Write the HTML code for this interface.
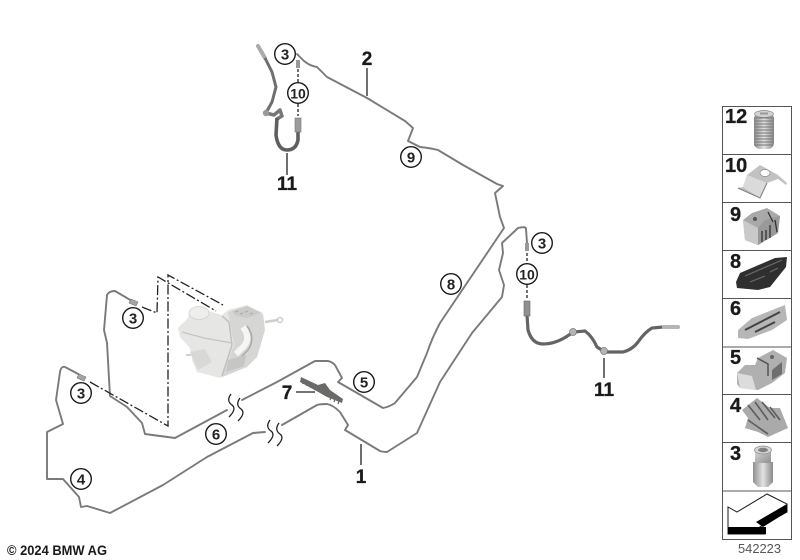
<!DOCTYPE html>
<html><head><meta charset="utf-8">
<style>
html,body{margin:0;padding:0;background:#fff;width:800px;height:560px;overflow:hidden}
svg{display:block;filter:blur(.35px)}
text{font-family:"Liberation Sans",sans-serif}
.t{fill:none;stroke:#7a7a78;stroke-width:1.9;stroke-linejoin:round;stroke-linecap:round}
.d{fill:none;stroke:#222;stroke-width:1.3;stroke-dasharray:10 2.5 2 2.5}
.l{stroke:#222;stroke-width:1.3;fill:none}
.c{fill:#fff;stroke:#1a1a1a;stroke-width:1.4}
.n{font-weight:bold;font-size:15px;text-anchor:middle;fill:#222}
.b{font-weight:bold;font-size:19px;text-anchor:middle;fill:#1a1a1a;stroke:#1a1a1a;stroke-width:.3}
.p{font-weight:bold;font-size:20px;fill:#1a1a1a;stroke:#1a1a1a;stroke-width:.3}
.r{fill:#fff;stroke:#555;stroke-width:1}
</style></head><body>
<svg width="800" height="560" viewBox="0 0 800 560" xmlns="http://www.w3.org/2000/svg">
<defs>
<linearGradient id="g1" x1="0" x2="1" y1="0" y2="0"><stop offset="0" stop-color="#8e8e8e"/><stop offset=".5" stop-color="#e2e2e2"/><stop offset="1" stop-color="#8a8a8a"/></linearGradient>
<linearGradient id="g2" x1="0" x2="1" y1="0" y2="1"><stop offset="0" stop-color="#d8d8d8"/><stop offset="1" stop-color="#8f8f8f"/></linearGradient>
</defs>

<!-- pipes -->
<path class="t" d="M297 54L304 61Q310 66 317 67Q322 72 327 77L367 98L405 121L413 128L408 141L420 147Q430 148 438 150L463 165L497 184L503 186L495 193L500 217L504 228L440 323Q432 338 427 353L417 377L395 403Q389 407 383 408L338 382L342 378L335 365Q331 361 327 361H315L277 382L242 400"/>
<path class="t" d="M227 410L175 438L145 434L142 423L127 407L110 396L107 343L104 330L107 295Q109 291 115 291L132 301"/>
<path class="t" d="M527 243L526 229Q526 226 518 228L502 243L503 253L499 270L504 285L502 297L472 333L440 382L417 433L387 452Q383 452 380 451L345 430L348 425L340 412Q333 405 327 404Q320 404 317 405L282 425"/>
<path class="t" d="M265 432L253 433L207 457L163 485L110 513L87 506L81 507L79 497L63 479L47 479L47 432L63 424L56 400L60 372Q61 366 65 367L80 375"/>
<!-- break marks -->
<path class="l" d="M231 394Q226 401 232 405Q237 409 229 417M240 398Q235 405 241 409Q246 413 238 421M270 420Q265 427 271 431Q276 435 268 443M279 423Q274 430 280 434Q285 438 277 446" stroke-width="1.1"/>
<!-- fittings -->
<path d="M131 299l7 3l-2 4l-7-3zM79 374l7 3l-2 4l-7-3z" fill="#a4a4a4" stroke="#777" stroke-width=".6"/>
<rect x="296" y="60" width="4" height="8" fill="#999"/>
<rect x="525" y="243" width="4" height="8" fill="#999"/>

<!-- dash-dot -->
<path class="d" d="M90 382L168 426L168 275L223 305"/>
<path class="d" d="M142 307L157 313L158 277L216 311"/>
<path class="l" d="M298 69V82M298 104V116M527 253V264M527 285V298" stroke-dasharray="3 2"/>

<!-- booster reservoir -->
<g>
<path d="M178 328L188 318L190 310L200 307L212 312L222 315L228 310L247 305L263 313L265 330L257 357L247 367L220 378L197 372L192 360L190 348L180 337Z" fill="#e6e6e4"/>
<path d="M228 312L247 307L263 315L265 330L257 357L247 367L222 377L234 345Z" fill="#d6d6d4"/>
<path d="M231 311L247 306L262 313L247 318L236 316Z" fill="#cbcbc9"/>
<path d="M235 312l3-1M240 314l3-1M245 312l3-1M250 314l3-1" stroke="#a8a8a6" stroke-width="1"/>
<path d="M243 327Q251 338 244 346L236 354" fill="none" stroke="#f6f6f6" stroke-width="6"/>
<path d="M247 326Q256 338 248 350L240 358" fill="none" stroke="#a8a8a6" stroke-width="1.5"/>
<path d="M222 316L229 322L232 345L222 376" fill="none" stroke="#bfbfbd" stroke-width="1.4"/>
<path d="M228 360L246 355L244 366L226 372Z" fill="#c6c6c4"/>
<ellipse cx="199" cy="313" rx="10" ry="6.5" fill="#eeeeec" stroke="#d0d0ce" stroke-width=".8"/>
<path d="M182 332L204 338L232 343" fill="none" stroke="#c4c4c2" stroke-width="1.2"/>
<path d="M190 352L205 349L212 362L198 370Z" fill="#d8d8d6"/>
<path d="M191 355H186" stroke="#cfcfcd" stroke-width="2"/>
<path d="M265 322L278 320" stroke="#cdcdcb" stroke-width="2.5"/>
<circle cx="280" cy="320" r="2.5" fill="#fff" stroke="#c4c4c2" stroke-width="1.2"/>
</g>

<!-- hose top -->
<path d="M258 46L265 58" stroke="#aaa" stroke-width="4" fill="none" stroke-linecap="round"/>
<path d="M265 58L272 72L276 87L272 102L267 111" stroke="#6f6f6d" stroke-width="3" fill="none"/>
<path d="M266 113L274 115L280 110L282 116L277 119" stroke="#777" stroke-width="3.5" fill="none" stroke-linecap="round" stroke-linejoin="round"/>
<circle cx="266" cy="113" r="3.2" fill="#999"/>
<path d="M277 118L276 135Q278 150 287 150Q296 150 298 140L298 131" stroke="#5f5f5d" stroke-width="3.6" fill="none"/>
<rect x="295" y="118" width="6" height="14" fill="#9c9c9c" stroke="#777" stroke-width=".6"/>

<!-- hose right -->
<path d="M527 315L528 330Q532 344 543 344Q558 344 573 332L585 331Q592 336 597 347L605 352L623 352Q632 350 638 342Q645 332 652 328L663 327" stroke="#646462" stroke-width="3.2" fill="none"/>
<rect x="524" y="301" width="6" height="15" fill="#8f8f8f" stroke="#666" stroke-width=".6"/>
<path d="M664 327H678" stroke="#b4b4b4" stroke-width="4" stroke-linecap="round"/>
<circle cx="573" cy="332" r="3.5" fill="#b4b4b4" stroke="#777" stroke-width=".7"/>
<circle cx="604" cy="351" r="3.5" fill="#b4b4b4" stroke="#777" stroke-width=".7"/>

<!-- part 7 -->
<path d="M301 377L318 385L325 383L330 390L343 399L342 403L327 397L320 393L300 382Z" fill="#6a6a68"/>
<path d="M302 381l1 3M306 383l1 3M310 385l1 3M314 387l1 3M331 397l-1 3M335 399l-1 3M339 401l-1 3" stroke="#6a6a68" stroke-width="1.2"/>

<!-- leaders -->
<path class="l" d="M367 68V96M287 153V175M361 444V465M296 392H315M604 358V378"/>

<!-- circles -->
<g>
<circle class="c" cx="285" cy="54" r="10.3"/><text class="n" x="285" y="59.5">3</text>
<circle class="c" cx="298" cy="93" r="10.3"/><text class="n" x="298" y="98.5" style="font-size:14px">10</text>
<circle class="c" cx="411" cy="157" r="10.3"/><text class="n" x="411" y="162.5">9</text>
<circle class="c" cx="542" cy="243" r="10.3"/><text class="n" x="542" y="248.5">3</text>
<circle class="c" cx="527" cy="274" r="10.3"/><text class="n" x="527" y="279.5" style="font-size:14px">10</text>
<circle class="c" cx="451" cy="284" r="10.3"/><text class="n" x="451" y="289.5">8</text>
<circle class="c" cx="364" cy="382" r="10.3"/><text class="n" x="364" y="387.5">5</text>
<circle class="c" cx="216" cy="434" r="10.3"/><text class="n" x="216" y="439.5">6</text>
<circle class="c" cx="81" cy="479" r="10.3"/><text class="n" x="81" y="484.5">4</text>
<circle class="c" cx="81" cy="393" r="10.3"/><text class="n" x="81" y="398.5">3</text>
<circle class="c" cx="133" cy="318" r="10.3"/><text class="n" x="133" y="323.5">3</text>
</g>
<text class="b" x="367" y="65">2</text>
<text class="b" x="287" y="190">11</text>
<text class="b" x="361" y="483">1</text>
<text class="b" x="287" y="399">7</text>
<text class="b" x="604" y="396">11</text>

<!-- panel -->
<rect class="r" x="722.5" y="106.5" width="69" height="433"/>
<path d="M722 154.5H792M722 202.5H792M722 250.5H792M722 298.5H792M722 347H792M722 394.5H792M722 442.5H792M722 491H792" stroke="#555" stroke-width="1"/>

<text class="p" x="725" y="123">12</text>
<text class="p" x="725" y="172">10</text>
<text class="p" x="730" y="221">9</text>
<text class="p" x="730" y="268">8</text>
<text class="p" x="730" y="315">6</text>
<text class="p" x="730" y="364">5</text>
<text class="p" x="730" y="412">4</text>
<text class="p" x="730" y="460">3</text>

<!-- 12 insert -->
<g>
<rect x="754" y="113" width="20" height="36" rx="6" fill="url(#g1)"/>
<path d="M754 118h20M754 121h20M754 124h20M754 127h20M754 130h20M754 133h20M754 136h20M754 139h20M754 142h20M754 145h19" stroke="#777" stroke-width=".9"/>
<ellipse cx="764" cy="114" rx="9.5" ry="3.5" fill="#d2d2d2" stroke="#888" stroke-width=".7"/>
<rect x="760" y="112.5" width="8" height="2" fill="#999"/>
</g>
<!-- 10 clip -->
<g>
<path d="M747 175L760 165L778 175L787 183L786 185L778 179L767 183L760 198L738 188L743 187Z" fill="#c2c2c2"/>
<path d="M747 175L767 183L760 198L743 187Z" fill="#dadada"/>
<ellipse cx="765" cy="173" rx="5" ry="3.5" fill="#fff" stroke="#888" stroke-width=".7"/>
<path d="M738 188L760 198L767 183" fill="none" stroke="#7c7c7c" stroke-width="1"/>
</g>
<!-- 9 clip -->
<g>
<path d="M743 220L752 213L767 208L780 216L778 233L758 245L745 240Z" fill="#a9a9a9"/>
<path d="M743 220L758 228L758 245L745 240Z" fill="#c9c9c9"/>
<path d="M758 228L765 220L780 216L778 233L758 245Z" fill="#999"/>
<path d="M762 231V242M766 230V240M770 225V238M775 220L777 232M768 212L773 222" stroke="#333" stroke-width="1.3" fill="none"/>
<circle cx="755" cy="219" r="2" fill="#555"/>
</g>
<!-- 8 clip -->
<g>
<path d="M736 282L740 273L775 258L787 257L786 267L770 287L758 290L737 288Z" fill="#2f2f2f"/>
<path d="M745 276L782 260M750 282L765 276M770 272L778 268" stroke="#6a6a6a" stroke-width="1.2"/>
</g>
<!-- 6 clip -->
<g>
<path d="M738 330L752 318L785 305L787 320L772 330L748 339L738 338Z" fill="#b6b6b6"/>
<path d="M745 330L780 312M755 332L775 322" stroke="#444" stroke-width="2"/>
</g>
<!-- 5 clip -->
<g>
<path d="M737 373L745 365L755 365L758 358L773 350L787 358L785 373L772 383L758 390L740 388L737 384Z" fill="#b0b0b0"/>
<path d="M737 373L752 376L756 390L740 388Z" fill="#dcdcdc"/>
<path d="M757 358L768 364L768 376" fill="none" stroke="#555" stroke-width="1.5"/>
<path d="M772 370L782 362V374L772 380Z" fill="#6e6e6e"/>
<circle cx="772" cy="357" r="2" fill="#666"/>
</g>
<!-- 4 clip -->
<g>
<path d="M742 410L757 398L770 408L780 408L788 428L768 437L758 432L745 428L748 418Z" fill="#aaaaaa"/>
<path d="M748 405L760 420M755 402L768 420M762 402L775 418M770 407L780 420M748 420L768 434" stroke="#5c5c5c" stroke-width="1.6"/>
</g>
<!-- 3 nut -->
<g>
<path d="M753 462H773V482L768 487H758L753 482Z" fill="url(#g1)"/>
<path d="M755 450H771V463H755Z" fill="url(#g2)"/>
<ellipse cx="763" cy="450" rx="8.5" ry="4" fill="#d6d6d6" stroke="#888" stroke-width=".7"/>
<ellipse cx="763" cy="450" rx="5" ry="2.2" fill="#808080"/>
</g>
<!-- arrow -->
<path d="M728 507L737 512L767 494L787 504V512L758 528L765 528V534H728Z" fill="#fff" stroke="#1a1a1a" stroke-width="1"/>
<rect x="728" y="527" width="38" height="7" fill="#000"/>
<path d="M756 522L787 504V512L763 527Z" fill="#000"/>

<text x="7" y="555" font-size="14" font-weight="bold" fill="#1a1a1a" textLength="100" lengthAdjust="spacingAndGlyphs">© 2024 BMW AG</text>
<text x="738" y="553" font-size="13" fill="#555" textLength="43" lengthAdjust="spacingAndGlyphs">542223</text>
</svg>
</body></html>
